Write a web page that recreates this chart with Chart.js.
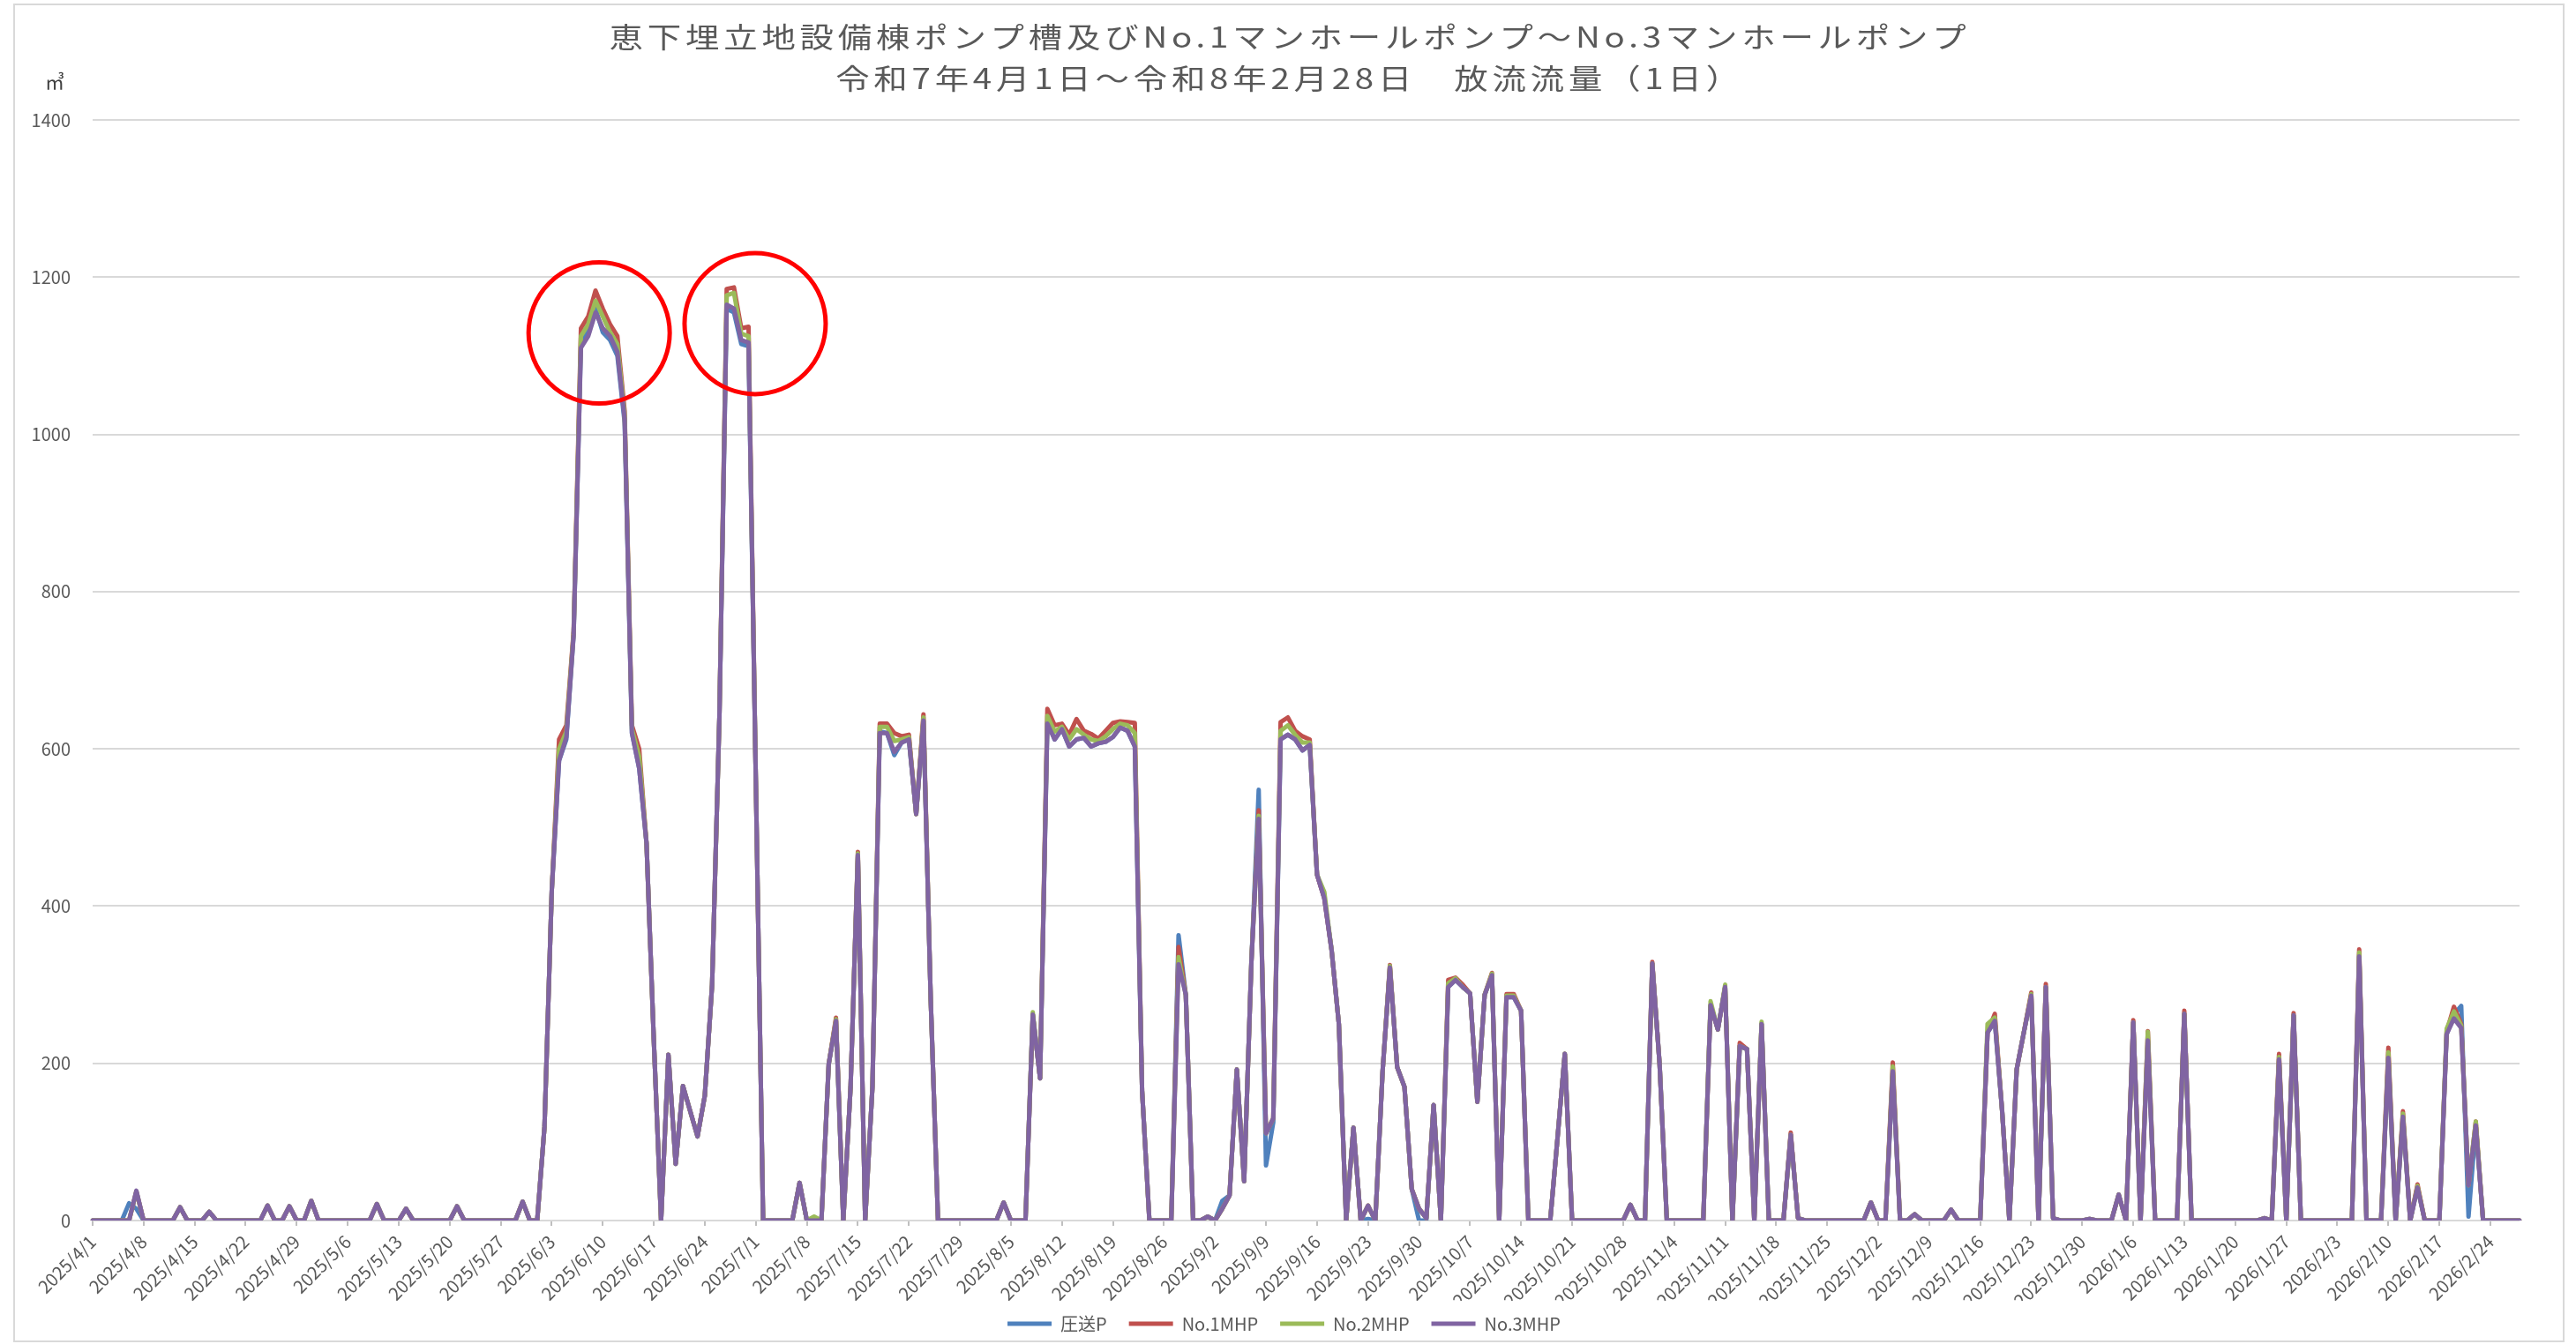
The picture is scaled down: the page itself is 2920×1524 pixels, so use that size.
<!DOCTYPE html>
<html lang="ja">
<head>
<meta charset="utf-8">
<title>放流流量（1日）</title>
<script src="https://cdn.jsdelivr.net/npm/chart.js@4.4.1/dist/chart.umd.min.js"></script>
<style>
  html, body { margin: 0; padding: 0; background: #fff; }
  #wrap { width: 2920px; height: 1524px; }
</style>
</head>
<body>
<div id="wrap"><canvas id="flowChart" width="2920" height="1524"></canvas></div>
<script>
// chart texts
const titleLines = [
  "恵下埋立地設備棟ポンプ槽及びNo.1マンホールポンプ～No.3マンホールポンプ",
  "令和7年4月1日～令和8年2月28日　放流流量（1日）"
];
const unitLabel = "㎥";
const seriesNames = ["圧送P", "No.1MHP", "No.2MHP", "No.3MHP"];
const seriesColors = ["#4F81BD", "#C0504D", "#9BBB59", "#8064A2"];

// one label every 7 days on the x axis
const tickLabels = [
  "2025/4/1", "2025/4/8", "2025/4/15", "2025/4/22", "2025/4/29",
  "2025/5/6", "2025/5/13", "2025/5/20", "2025/5/27",
  "2025/6/3", "2025/6/10", "2025/6/17", "2025/6/24",
  "2025/7/1", "2025/7/8", "2025/7/15", "2025/7/22", "2025/7/29",
  "2025/8/5", "2025/8/12", "2025/8/19", "2025/8/26",
  "2025/9/2", "2025/9/9", "2025/9/16", "2025/9/23", "2025/9/30",
  "2025/10/7", "2025/10/14", "2025/10/21", "2025/10/28",
  "2025/11/4", "2025/11/11", "2025/11/18", "2025/11/25",
  "2025/12/2", "2025/12/9", "2025/12/16", "2025/12/23", "2025/12/30",
  "2026/1/6", "2026/1/13", "2026/1/20", "2026/1/27",
  "2026/2/3", "2026/2/10", "2026/2/17", "2026/2/24"
];

// daily values (m3), 2025/4/1 .. 2026/2/28, one row per week
const pressP = [
  0,0,0,0,0,22,15,
  0,0,0,0,0,17,0,
  0,0,11,0,0,0,0,
  0,0,0,19,0,0,18,
  0,0,25,0,0,0,0,
  0,0,0,0,21,0,0,
  0,15,0,0,0,0,0,
  0,18,0,0,0,0,0,
  0,0,0,24,0,0,119,
  420,585,612,745,1115,1135,1160,
  1130,1120,1100,1015,620,575,480,
  230,0,211,72,171,139,107,
  159,300,640,1160,1155,1115,1112,
  560,0,0,0,0,0,48,
  0,0,0,199,254,0,170,
  465,0,170,622,620,592,608,
  612,517,636,280,0,0,0,
  0,0,0,0,0,0,23,
  0,0,0,262,181,635,612,
  625,603,612,614,603,607,609,
  615,627,623,603,165,0,0,
  0,0,363,287,0,0,5,
  0,25,32,192,50,330,548,
  70,125,612,618,612,598,605,
  440,410,344,250,0,118,0,
  2,0,190,322,195,170,40,
  0,0,147,0,297,306,297,
  289,151,287,312,0,284,284,
  267,0,0,0,0,105,212,
  0,0,0,0,0,0,0,
  0,20,0,0,327,200,0,
  0,0,0,0,0,274,243,
  297,0,222,218,0,250,0,
  0,0,109,3,0,0,0,
  0,0,0,0,0,0,23,
  0,0,190,0,0,8,0,
  0,0,0,14,0,0,0,
  0,239,254,140,0,192,240,
  286,0,297,3,0,0,0,
  0,2,0,0,0,33,0,
  252,0,229,0,0,0,0,
  263,0,0,0,0,0,0,
  0,0,0,0,3,0,205,
  0,261,0,0,0,0,0,
  0,0,0,338,0,0,0,
  207,0,132,0,42,0,0,
  0,237,262,273,5,121,0,
  0,0,0,0,0
];

const mhp1 = [
  0,0,0,0,0,0,37,
  0,0,0,0,0,17,0,
  0,0,11,0,0,0,0,
  0,0,0,19,0,0,18,
  0,0,25,0,0,0,0,
  0,0,0,0,21,0,0,
  0,15,0,0,0,0,0,
  0,18,0,0,0,0,0,
  0,0,0,24,0,0,119,
  420,612,630,750,1135,1150,1183,
  1160,1140,1125,1030,630,600,480,
  230,0,211,72,171,139,107,
  159,300,640,1185,1187,1135,1137,
  560,0,0,0,0,0,48,
  0,0,0,199,258,0,170,
  469,0,170,632,632,620,616,
  618,517,644,280,0,0,0,
  0,0,0,0,0,0,23,
  0,0,0,262,181,651,630,
  632,618,638,623,619,613,623,
  633,635,634,633,165,0,0,
  0,0,348,287,0,0,5,
  0,15,32,192,50,330,522,
  111,130,634,640,623,616,612,
  440,410,344,250,0,118,0,
  19,0,190,325,195,170,40,
  15,3,147,0,306,309,300,
  289,151,287,315,0,288,288,
  267,0,0,0,0,105,212,
  0,0,0,0,0,0,0,
  0,20,0,0,329,200,0,
  0,0,0,0,0,274,243,
  297,0,226,218,0,250,0,
  0,0,112,3,0,0,0,
  0,0,0,0,0,0,23,
  0,0,201,0,0,8,0,
  0,0,0,14,0,0,0,
  0,239,263,140,0,192,240,
  290,0,301,3,0,0,0,
  0,2,0,0,0,33,0,
  255,0,241,0,0,0,0,
  267,0,0,0,0,0,0,
  0,0,0,0,3,0,212,
  0,264,0,0,0,0,0,
  0,0,0,345,0,0,0,
  220,0,139,0,46,0,0,
  0,240,272,250,45,126,0,
  0,0,0,0,0
];

const mhp2 = [
  0,0,0,0,0,0,37,
  0,0,0,0,0,17,0,
  0,0,11,0,0,0,0,
  0,0,0,19,0,0,18,
  0,0,25,0,0,0,0,
  0,0,0,0,21,0,0,
  0,15,0,0,0,0,0,
  0,18,0,0,0,0,0,
  0,0,0,24,0,0,119,
  420,600,622,748,1125,1140,1170,
  1150,1130,1115,1025,625,590,480,
  230,0,211,72,171,139,107,
  159,300,640,1177,1180,1128,1125,
  560,0,0,0,0,0,48,
  0,5,0,199,256,0,170,
  467,0,170,628,628,610,612,
  615,517,640,280,0,0,0,
  0,0,0,0,0,0,23,
  0,0,0,265,181,642,622,
  628,612,625,618,612,610,616,
  625,632,630,620,165,0,0,
  0,0,335,287,0,0,5,
  0,15,32,192,50,330,515,
  111,130,623,630,618,608,608,
  440,418,344,250,0,118,0,
  19,0,190,324,195,170,40,
  15,3,147,0,302,308,297,
  289,151,287,314,0,286,286,
  267,0,0,0,0,105,212,
  0,0,0,0,0,0,0,
  0,20,0,0,327,200,0,
  0,0,0,0,0,279,243,
  300,0,222,218,0,253,0,
  0,0,109,3,0,0,0,
  0,0,0,0,0,0,23,
  0,0,196,0,0,8,0,
  0,0,0,14,0,0,0,
  0,250,258,140,0,192,240,
  288,0,297,3,0,0,0,
  0,2,0,0,0,33,0,
  252,0,240,0,0,0,0,
  263,0,0,0,0,0,0,
  0,0,0,0,3,0,208,
  0,261,0,0,0,0,0,
  0,0,0,341,0,0,0,
  214,0,136,0,44,0,0,
  0,244,266,248,45,126,0,
  0,0,0,0,0
];

const mhp3 = [
  0,0,0,0,0,0,38,
  0,0,0,0,0,17,0,
  0,0,11,0,0,0,0,
  0,0,0,19,0,0,18,
  0,0,25,0,0,0,0,
  0,0,0,0,21,0,0,
  0,15,0,0,0,0,0,
  0,18,0,0,0,0,0,
  0,0,0,24,0,0,119,
  420,585,615,745,1110,1125,1155,
  1135,1125,1105,1020,620,575,480,
  230,0,211,72,171,139,107,
  159,300,640,1165,1160,1120,1117,
  560,0,0,0,0,0,48,
  0,0,0,199,254,0,170,
  465,0,170,620,620,596,608,
  612,517,636,280,0,0,0,
  0,0,0,0,0,0,23,
  0,0,0,262,181,632,612,
  625,603,612,614,603,607,609,
  615,627,623,603,165,0,0,
  0,0,326,287,0,0,5,
  0,15,32,192,50,330,511,
  111,130,612,618,612,598,605,
  440,410,344,250,0,118,0,
  19,0,190,322,195,170,40,
  15,3,147,0,297,306,297,
  289,151,287,312,0,284,284,
  267,0,0,0,0,105,212,
  0,0,0,0,0,0,0,
  0,20,0,0,327,200,0,
  0,0,0,0,0,274,243,
  297,0,222,218,0,250,0,
  0,0,109,3,0,0,0,
  0,0,0,0,0,0,23,
  0,0,190,0,0,8,0,
  0,0,0,14,0,0,0,
  0,239,254,140,0,192,240,
  286,0,297,3,0,0,0,
  0,2,0,0,0,33,0,
  252,0,229,0,0,0,0,
  263,0,0,0,0,0,0,
  0,0,0,0,3,0,205,
  0,261,0,0,0,0,0,
  0,0,0,336,0,0,0,
  207,0,132,0,42,0,0,
  0,237,257,245,45,121,0,
  0,0,0,0,0
];

// red circles drawn round the two June/July peaks (day index, value)
const circledPeaks = [
  { day: 69.5, value: 1129 },
  { day: 90.9, value: 1141 }
];

const FONT = '"Noto Sans CJK JP", "Noto Sans", sans-serif';
const TEXT_GREY = "#595959";

// category for every day, e.g. "2025/4/1"
const dayLabels = mhp3.map((_, i) => {
  const d = new Date(2025, 3, 1 + i);
  return d.getFullYear() + "/" + (d.getMonth() + 1) + "/" + d.getDate();
});

const frameAndTitle = {
  id: "frameAndTitle",
  beforeDraw(chart) {
    const ctx = chart.ctx;
    ctx.save();
    ctx.fillStyle = "#ffffff";
    ctx.fillRect(0, 0, chart.width, chart.height);
    ctx.strokeStyle = "#d9d9d9";
    ctx.lineWidth = 2;
    ctx.strokeRect(16, 5, chart.width - 30, chart.height - 8);
    ctx.restore();
  },
  afterDraw(chart) {
    const ctx = chart.ctx;
    ctx.save();
    ctx.fillStyle = TEXT_GREY;
    ctx.textAlign = "center";
    ctx.textBaseline = "middle";
    ctx.font = "32px " + FONT;
    ctx.letterSpacing = "4px";
    titleLines.forEach((line, i) => {
      ctx.save();
      ctx.translate(chart.width / 2 + 2, 42 + i * 47);
      ctx.scale(1.2, 1);   // the original picture is stretched sideways
      ctx.fillText(line, 0, 0);
      ctx.restore();
    });
    ctx.letterSpacing = "0px";
    ctx.font = "22px " + FONT;
    ctx.fillStyle = "#404040";
    ctx.fillText(unitLabel, 62, 93);
    ctx.restore();
  }
};

const peakCircles = {
  id: "peakCircles",
  afterDatasetsDraw(chart) {
    const { ctx, scales: { x, y } } = chart;
    ctx.save();
    ctx.strokeStyle = "#ff0000";
    ctx.lineWidth = 5;
    circledPeaks.forEach((p) => {
      ctx.beginPath();
      ctx.arc(x.getPixelForValue(p.day), y.getPixelForValue(p.value), 80, 0, Math.PI * 2);
      ctx.stroke();
    });
    ctx.restore();
  }
};

const seriesData = [pressP, mhp1, mhp2, mhp3];

new Chart(document.getElementById("flowChart").getContext("2d"), {
  type: "line",
  data: {
    labels: dayLabels,
    datasets: seriesData.map((values, i) => ({
      label: seriesNames[i],
      data: values,
      borderColor: seriesColors[i],
      backgroundColor: seriesColors[i],
      order: seriesData.length - i   // No.3MHP drawn last, on top
    }))
  },
  options: {
    responsive: false,
    animation: false,
    devicePixelRatio: 1,
    layout: { padding: { top: 136, right: 0, bottom: 3, left: 0 } },
    elements: {
      point: { radius: 0 },
      line: { borderWidth: 5, tension: 0, borderJoinStyle: "round", borderCapStyle: "round", fill: false }
    },
    plugins: {
      title: { display: false },
      tooltip: { enabled: false },
      legend: {
        position: "bottom",
        labels: {
          boxWidth: 50,
          boxHeight: 5,
          padding: 16,
          color: TEXT_GREY,
          font: { size: 20, family: FONT },
          sort: (a, b) => a.datasetIndex - b.datasetIndex,
          generateLabels(chart) {
            return Chart.defaults.plugins.legend.labels.generateLabels(chart)
              .map((item) => ({ ...item, text: item.text + "  ", lineWidth: 0, fillStyle: item.strokeStyle }));
          }
        }
      }
    },
    scales: {
      x: {
        grid: { drawOnChartArea: false, drawTicks: true, tickLength: 6, color: "#bfbfbf", lineWidth: 2 },
        border: { display: false },
        afterBuildTicks(scale) {
          scale.ticks = scale.ticks.filter((t) => t.value % 7 === 0);
        },
        afterFit(scale) { scale.height = 91; },
        ticks: {
          autoSkip: false,
          minRotation: 45,
          maxRotation: 45,
          padding: 6,
          color: TEXT_GREY,
          font: { size: 20, family: FONT },
          callback: (value) => tickLabels[value / 7]
        }
      },
      y: {
        min: 0,
        max: 1400,
        ticks: { stepSize: 200, padding: 25, color: TEXT_GREY, font: { size: 20, family: FONT }, callback: (v) => String(v) },
        grid: { color: "#d9d9d9", lineWidth: 2, drawTicks: false },
        border: { display: false },
        afterFit(scale) { scale.width = 105; }
      },
      // empty strip on the right so the plot ends where the original does
      rightGap: {
        position: "right",
        grid: { display: false },
        border: { display: false },
        ticks: { display: false },
        afterFit(scale) { scale.width = 64; }
      }
    }
  },
  plugins: [frameAndTitle, peakCircles]
});
</script>
</body>
</html>
